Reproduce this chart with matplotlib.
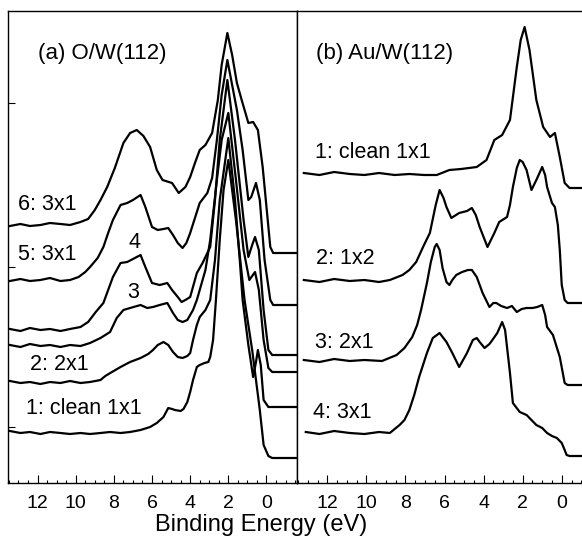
import numpy as np
import matplotlib
matplotlib.use("Agg")
import matplotlib.pyplot as plt
from matplotlib.ticker import MultipleLocator

plt.rcParams['font.family'] = ['Liberation Sans', 'DejaVu Sans']

# (a) O/W(112) : energie de liaison (eV) et intensite (u.a., decalage inclus)
e_o1 = [13.45, 12.9, 12.4, 11.85, 11.35, 10.8, 10.3, 9.75, 9.25, 8.7, 8.2, 7.65, 7.15, 6.6, 6.1,
        5.75, 5.4, 5.15, 4.95, 4.8, 4.5, 4.35, 4.15, 4.0, 3.85, 3.65, 3.5, 3.25, 3.05, 2.95,
        2.8, 2.65, 2.45, 2.25, 2.0, 1.6, 1.15, 0.75, 0.55, 0.35, 0.15, -0.1, -0.3, -1.6]
i_o1 = [52, 50, 51, 49, 51, 50, 49, 50, 49, 50, 51, 50, 51, 53, 56,
        60, 66, 75, 74, 73, 72, 74, 81, 91, 103, 116, 118, 120, 121, 126,
        143, 183, 243, 293, 323, 263, 183, 133, 103, 73, 38, 27, 25, 25]

e_o2 = [13.45, 12.9, 12.4, 11.85, 11.35, 10.8, 10.3, 9.75, 9.25, 8.7, 8.45, 8.1, 7.65, 7.15, 6.6,
        6.2, 5.95, 5.7, 5.4, 5.15, 4.9, 4.65, 4.4, 4.15, 4.0, 3.85, 3.65, 3.5, 3.2, 2.95,
        2.7, 2.45, 2.0, 1.65, 1.4, 1.25, 0.95, 0.7, 0.55, 0.45, 0.3, 0.15, -0.1, -1.6]
i_o2 = [102, 100, 101, 99, 101, 100, 102, 100, 101, 103, 107, 111, 116, 121, 125,
        129, 133, 138, 141, 138, 131, 126, 125, 127, 130, 143, 158, 166, 173, 183,
        223, 283, 345, 283, 223, 183, 138, 106, 121, 133, 118, 83, 76, 76]

e_o3 = [13.45, 12.9, 12.4, 11.85, 11.35, 10.8, 10.3, 9.75, 9.25, 8.7, 8.2, 7.85, 7.5, 7.15, 6.6,
        6.25, 5.95, 5.6, 5.2, 4.9, 4.65, 4.4, 4.15, 3.85, 3.65, 3.5, 3.2, 2.95, 2.6, 2.35,
        2.0, 1.6, 1.2, 0.9, 0.75, 0.6, 0.4, 0.15, -0.1, -0.3, -1.6]
i_o3 = [138, 136, 139, 137, 138, 136, 138, 137, 140, 145, 151, 165, 173, 175, 178,
        175, 176, 178, 180, 170, 163, 161, 163, 173, 183, 193, 213, 243, 303, 343,
        370, 303, 233, 203, 207, 211, 193, 143, 115, 111, 111]

e_o4 = [13.45, 12.9, 12.4, 11.85, 11.35, 10.8, 10.3, 9.75, 9.35, 8.95, 8.55, 8.3, 8.05, 7.65, 7.3,
        7.0, 6.6, 6.35, 6.0, 5.6, 5.2, 4.95, 4.65, 4.45, 4.25, 4.0, 3.65, 3.35, 2.95, 2.7,
        2.45, 2.05, 1.65, 1.2, 0.95, 0.75, 0.6, 0.4, 0.15, -0.1, -0.3, -1.6]
i_o4 = [154, 152, 155, 153, 154, 152, 154, 156, 161, 171, 180, 193, 206, 220, 221,
        224, 228, 216, 200, 198, 200, 193, 186, 181, 183, 186, 210, 220, 236, 283,
        343, 403, 343, 263, 226, 238, 246, 233, 173, 133, 128, 128]

e_o5 = [13.45, 12.9, 12.4, 11.85, 11.35, 10.8, 10.3, 9.85, 9.5, 9.25, 8.85, 8.55, 8.3, 8.05, 7.65,
        7.3, 7.0, 6.6, 6.35, 6.0, 5.7, 5.4, 5.15, 4.9, 4.65, 4.4, 4.2, 4.0, 3.75, 3.5,
        3.1, 2.85, 2.6, 2.35, 2.05, 1.8, 1.55, 1.25, 0.95, 0.8, 0.55, 0.35, 0.1, -0.2, -0.35, -1.6]
i_o5 = [202, 204, 202, 203, 205, 202, 203, 206, 211, 216, 225, 236, 250, 263, 278,
        280, 283, 288, 276, 256, 253, 254, 255, 248, 240, 235, 240, 250, 265, 280,
        290, 305, 343, 388, 423, 398, 373, 333, 283, 286, 300, 283, 223, 183, 178, 178]

e_o6 = [13.45, 12.9, 12.4, 11.85, 11.35, 10.8, 10.3, 9.75, 9.35, 9.0, 8.7, 8.35, 7.95, 7.5, 7.15,
        6.8, 6.45, 6.1, 5.75, 5.45, 4.95, 4.6, 4.25, 4.0, 3.75, 3.5, 3.2, 2.85, 2.55, 2.35,
        2.05, 1.8, 1.55, 1.3, 0.95, 0.7, 0.45, 0.2, 0.0, -0.2, -0.35, -1.6]
i_o6 = [257, 259, 257, 258, 260, 259, 258, 261, 264, 273, 283, 296, 315, 340, 350,
        353, 347, 336, 313, 303, 300, 290, 296, 306, 320, 333, 338, 350, 383, 418,
        450, 428, 400, 383, 360, 361, 353, 316, 276, 236, 230, 230]

# (b) Au/W(112)
e_a1 = [13.2, 12.4, 11.65, 10.85, 10.1, 9.35, 8.55, 7.8, 7.05, 6.4, 5.75, 5.15, 4.35, 3.85, 3.45,
        3.05, 2.65, 2.3, 2.1, 1.9, 1.65, 1.3, 0.95, 0.6, 0.35, 0.1, -0.15, -0.4, -1.6]
i_a1 = [310, 308, 311, 309, 308, 310, 308, 309, 308, 308, 313, 314, 316, 323, 343,
        348, 363, 416, 443, 456, 433, 383, 356, 346, 350, 326, 300, 295, 295]

e_a2 = [13.2, 12.4, 11.65, 10.85, 10.1, 9.35, 8.8, 8.15, 7.8, 7.45, 7.05, 6.75, 6.45, 6.25, 6.05,
        5.9, 5.65, 5.25, 4.85, 4.6, 4.4, 4.2, 3.8, 3.45, 3.2, 2.8, 2.65, 2.5, 2.3, 2.15,
        2.0, 1.8, 1.55, 1.3, 1.0, 0.85, 0.75, 0.5, 0.35, 0.2, 0.1, 0.0, -0.15, -0.3, -1.6]
i_a2 = [203, 201, 204, 202, 203, 201, 203, 208, 213, 221, 238, 250, 278, 293, 285,
        276, 265, 270, 272, 275, 268, 256, 236, 250, 261, 266, 278, 296, 315, 323,
        321, 313, 293, 303, 316, 308, 296, 280, 276, 258, 233, 198, 183, 180, 180]

e_a3 = [13.2, 12.4, 11.65, 10.85, 10.1, 9.2, 8.45, 8.05, 7.65, 7.4, 7.2, 6.9, 6.7, 6.5, 6.4,
        6.25, 6.1, 5.9, 5.75, 5.6, 5.4, 5.1, 4.8, 4.6, 4.35, 4.05, 3.7, 3.5, 3.35, 3.1,
        2.8, 2.55, 2.3, 2.05, 1.8, 1.5, 1.25, 1.0, 0.85, 0.75, 0.45, 0.1, -0.15, -0.3, -1.6]
i_a3 = [123, 121, 124, 122, 123, 122, 128, 135, 146, 158, 173, 200, 221, 236, 239,
        233, 215, 201, 198, 203, 208, 211, 213, 213, 206, 190, 176, 180, 180, 177,
        175, 177, 171, 174, 175, 175, 176, 178, 168, 156, 148, 126, 100, 98, 98]

e_a4 = [13.1, 12.4, 11.65, 10.85, 10.1, 9.35, 8.8, 8.3, 8.05, 7.8, 7.55, 7.3, 6.9, 6.6, 6.25,
        5.9, 5.6, 5.25, 4.85, 4.55, 4.35, 4.2, 3.95, 3.7, 3.55, 3.3, 3.05, 2.9, 2.65, 2.5,
        2.15, 1.8, 1.55, 1.3, 1.0, 0.75, 0.5, 0.25, 0.0, -0.15, -0.25, -0.4, -1.6]
i_a4 = [51, 49, 52, 50, 49, 51, 50, 58, 63, 73, 88, 106, 130, 145, 150,
        141, 130, 116, 130, 143, 145, 141, 135, 139, 143, 150, 161, 153, 110, 80,
        71, 68, 63, 58, 55, 50, 47, 45, 40, 33, 28, 27, 27]

labels_o = ["1: clean 1x1", "2: 2x1", "3", "4", "5: 3x1", "6: 3x1"]
labels_a = ["1: clean 1x1", "2: 1x2", "3: 2x1", "4: 3x1"]

W, H = 582, 543
fig = plt.figure(figsize=(W / 100, H / 100), dpi=100)
ax1 = fig.add_axes([8 / W, 60 / H, 289 / W, 472 / H])
ax2 = fig.add_axes([297 / W, 60 / H, 296 / W, 472 / H])

lw = 1.6
for e, i in [(e_o1, i_o1), (e_o2, i_o2), (e_o3, i_o3), (e_o4, i_o4), (e_o5, i_o5), (e_o6, i_o6)]:
    ax1.plot(e, i, color='black', lw=lw)
for e, i in [(e_a1, i_a1), (e_a2, i_a2), (e_a3, i_a3), (e_a4, i_a4)]:
    ax2.plot(e, i, color='black', lw=lw)

for ax in (ax1, ax2):
    ax.set_xlim(13.55, -1.6)
    ax.set_ylim(0, 472)
    ax.xaxis.set_major_locator(MultipleLocator(2))
    ax.xaxis.set_minor_locator(MultipleLocator(0.5))
    ax.tick_params(axis='x', which='major', direction='in', length=6, width=0.8,
                   labelsize=14, pad=9, top=False)
    ax.tick_params(axis='x', which='minor', direction='in', length=2.5, width=0.8, top=False)
    for s in ax.spines.values():
        s.set_linewidth(1.0)

ax1.set_yticks([56, 216, 380])
ax1.tick_params(axis='y', direction='in', length=5, width=0.8, labelleft=False)
ax2.set_yticks([])
ax2.spines['right'].set_visible(False)

fs = 15.5
ax1.text(12.0, 430, "(a) O/W(112)", fontsize=16, va='center', ha='left')
ax1.text(12.6, 75, labels_o[0], fontsize=fs, va='center')
ax1.text(12.4, 118, labels_o[1], fontsize=fs, va='center')
ax1.text(7.0, 191, labels_o[2], fontsize=fs, va='center', ha='center')
ax1.text(6.9, 241, labels_o[3], fontsize=fs, va='center', ha='center')
ax1.text(13.05, 228, labels_o[4], fontsize=fs, va='center')
ax1.text(13.05, 278, labels_o[5], fontsize=fs, va='center')

ax2.text(12.6, 430, "(b) Au/W(112)", fontsize=16, va='center', ha='left')
ax2.text(12.65, 330, labels_a[0], fontsize=fs, va='center')
ax2.text(12.6, 225, labels_a[1], fontsize=fs, va='center')
ax2.text(12.65, 141, labels_a[2], fontsize=fs, va='center')
ax2.text(12.75, 70, labels_a[3], fontsize=fs, va='center')

fig.text(261 / W, 1 - 525 / H, "Binding Energy (eV)", fontsize=17, ha='center', va='center')

fig.savefig("out.png", dpi=100)
